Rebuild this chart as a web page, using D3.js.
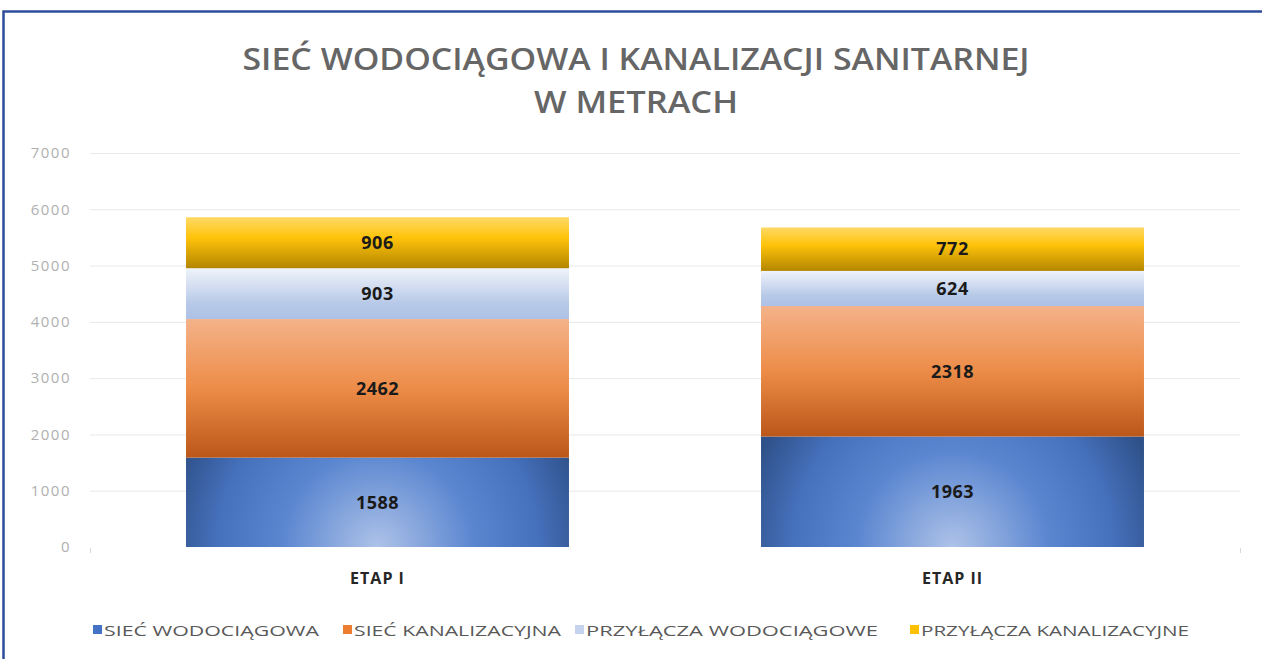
<!DOCTYPE html>
<html>
<head>
<meta charset="utf-8">
<style>
  body { margin: 0; background: #fff; }
  svg { display: block; }
  .title { font-family: "Open Sans", sans-serif; font-weight: 600; fill: #666; }
  .axis text { font-family: "Open Sans", sans-serif; font-size: 15px; fill: #b0b0b0; letter-spacing: 1.5px; }
  .grid line { stroke: #e8e8e8; stroke-width: 1; }
  .cat { font-family: "Open Sans", sans-serif; font-size: 16px; font-weight: 700; fill: #262626; letter-spacing: 1px; }
  .lbl { font-family: "Open Sans", sans-serif; font-size: 18px; font-weight: 700; fill: #1a1a1a; letter-spacing: 0.5px; }
  .legend text { font-family: "Open Sans", sans-serif; font-size: 15px; fill: #595959; }
</style>
</head>
<body>
<svg width="1262" height="659"></svg>
<script src="https://cdn.jsdelivr.net/npm/d3@7"></script>
<script>

// data
var categories = ["ETAP I", "ETAP II"]
var seriesNames = ["SIEĆ WODOCIĄGOWA", "SIEĆ KANALIZACYJNA", "PRZYŁĄCZA WODOCIĄGOWE", "PRZYŁĄCZA KANALIZACYJNE"]
var siecWod = [1588, 1963]
var siecKan = [2462, 2318]
var przWod = [903, 624]
var przKan = [906, 772]
var yTicks = [0, 1000, 2000, 3000, 4000, 5000, 6000, 7000]
var titleLines = ["SIEĆ WODOCIĄGOWA I KANALIZACJI SANITARNEJ", "W METRACH"]

var series = [siecWod, siecKan, przWod, przKan]

var svg = d3.select("svg")
var defs = svg.append("defs")

var margin = {left: 90, right: 22, top: 153, bottom: 112}
var width = 1262 - margin.left - margin.right
var height = 659 - margin.top - margin.bottom

var x = d3.scaleBand().domain(categories).range([0, width]).paddingInner(0.334).paddingOuter(0.167)
var y = d3.scaleLinear().domain([0, 7000]).range([height, 0])

// blue bars: radial light spot at bottom centre, one gradient per bar
categories.forEach(function(c, i) {
  var cx = x(c) + x.bandwidth() / 2
  var rg = defs.append("radialGradient").attr("id", "blue" + i)
    .attr("gradientUnits", "userSpaceOnUse")
    .attr("cx", cx).attr("cy", height).attr("r", x.bandwidth() * 0.56)
    .attr("fx", cx).attr("fy", height)
  rg.append("stop").attr("offset", "0%").attr("stop-color", "#aec2e8")
  rg.append("stop").attr("offset", "45%").attr("stop-color", "#5a86d0")
  rg.append("stop").attr("offset", "75%").attr("stop-color", "#4570bb")
  rg.append("stop").attr("offset", "100%").attr("stop-color", "#2f5189")
})

function vgrad(id, stops) {
  var g = defs.append("linearGradient").attr("id", id)
    .attr("x1", "0%").attr("x2", "0%").attr("y1", "0%").attr("y2", "100%")
  stops.forEach(function(s) {
    g.append("stop").attr("offset", s[0]).attr("stop-color", s[1])
  })
}
vgrad("g1", [["0%", "#f4b289"], ["50%", "#ed8c48"], ["100%", "#bb5719"]])
vgrad("g2", [["0%", "#eff3fa"], ["70%", "#b7c9e8"], ["100%", "#adc1e6"]])
vgrad("g3", [["0%", "#ffd966"], ["40%", "#ffc30a"], ["100%", "#b38600"]])

var fills = [null, "url(#g1)", "url(#g2)", "url(#g3)"]
var swatch = ["#4472c4", "#ed7d31", "#c5d3ee", "#ffc000"]

// frame
svg.append("rect")
  .attr("x", 3.5).attr("y", 11.5)
  .attr("width", 1270).attr("height", 660)
  .attr("fill", "none").attr("stroke", "#2f4d9a").attr("stroke-width", 2.5)

// title
var titleW = [787, 204]
svg.selectAll(".title").data(titleLines).enter().append("text")
  .attr("class", "title")
  .attr("x", 636)
  .attr("y", function(d, i) { return 70 + i * 43 })
  .attr("text-anchor", "middle")
  .attr("font-size", 31)
  .attr("textLength", function(d, i) { return titleW[i] })
  .attr("lengthAdjust", "spacingAndGlyphs")
  .text(function(d) { return d })

var g = svg.append("g").attr("transform", "translate(" + margin.left + "," + margin.top + ")")

// gridlines
g.append("g").attr("class", "grid")
  .selectAll("line").data(yTicks.filter(function(d) { return d > 0 })).enter().append("line")
  .attr("x1", 0).attr("x2", width)
  .attr("y1", function(d) { return y(d) + 0.5 })
  .attr("y2", function(d) { return y(d) + 0.5 })

// y axis
var gy = g.append("g").attr("class", "axis")
  .attr("transform", "translate(-19,0)")
  .call(d3.axisLeft(y).tickValues(yTicks).tickFormat(d3.format("d")).tickSize(0).tickPadding(0))
gy.select(".domain").remove()

// small ticks on baseline ends
g.selectAll(".bt").data([0, width]).enter().append("line")
  .attr("x1", function(d) { return d + 0.5 }).attr("x2", function(d) { return d + 0.5 })
  .attr("y1", height + 1).attr("y2", height + 6)
  .attr("stroke", "#d9d9d9")

// stack
var rows = categories.map(function(c, i) {
  var r = {cat: c, idx: i}
  series.forEach(function(s, k) { r["s" + k] = s[i] })
  return r
})
var stack = d3.stack().keys(series.map(function(s, k) { return "s" + k }))
var stacked = stack(rows)

var layers = g.selectAll(".layer").data(stacked).enter().append("g")
  .attr("class", "layer")

layers.selectAll("rect").data(function(d) { return d.map(function(p) { return {p: p, k: d.index} }) })
  .enter().append("rect")
  .attr("x", function(d) { return x(d.p.data.cat) })
  .attr("width", x.bandwidth())
  .attr("y", function(d) { return y(d.p[1]) })
  .attr("height", function(d) { return y(d.p[0]) - y(d.p[1]) })
  .attr("fill", function(d) { return d.k == 0 ? "url(#blue" + d.p.data.idx + ")" : fills[d.k] })

layers.selectAll("text").data(function(d) { return d.map(function(p) { return {p: p, k: d.index} }) })
  .enter().append("text")
  .attr("class", "lbl")
  .attr("x", function(d) { return x(d.p.data.cat) + x.bandwidth() / 2 })
  .attr("y", function(d) { return (y(d.p[0]) + y(d.p[1])) / 2 })
  .attr("dy", "0.35em")
  .attr("text-anchor", "middle")
  .text(function(d) { return d.p[1] - d.p[0] })

// category labels
g.selectAll(".cat").data(categories).enter().append("text")
  .attr("class", "cat")
  .attr("x", function(d) { return x(d) + x.bandwidth() / 2 })
  .attr("y", height + 37)
  .attr("text-anchor", "middle")
  .text(function(d) { return d })

// legend
var legendX = [93, 343, 575, 910]
var legendW = [215, 207, 292, 268]
var legend = svg.append("g").attr("class", "legend")
var li = legend.selectAll("g").data(seriesNames).enter().append("g")
  .attr("transform", function(d, i) { return "translate(" + legendX[i] + ",625)" })
li.append("rect").attr("width", 9).attr("height", 9)
  .attr("fill", function(d, i) { return swatch[i] })
li.append("text").attr("x", 11).attr("y", 10.5)
  .attr("textLength", function(d, i) { return legendW[i] })
  .attr("lengthAdjust", "spacingAndGlyphs")
  .text(function(d) { return d })

</script>
</body>
</html>
